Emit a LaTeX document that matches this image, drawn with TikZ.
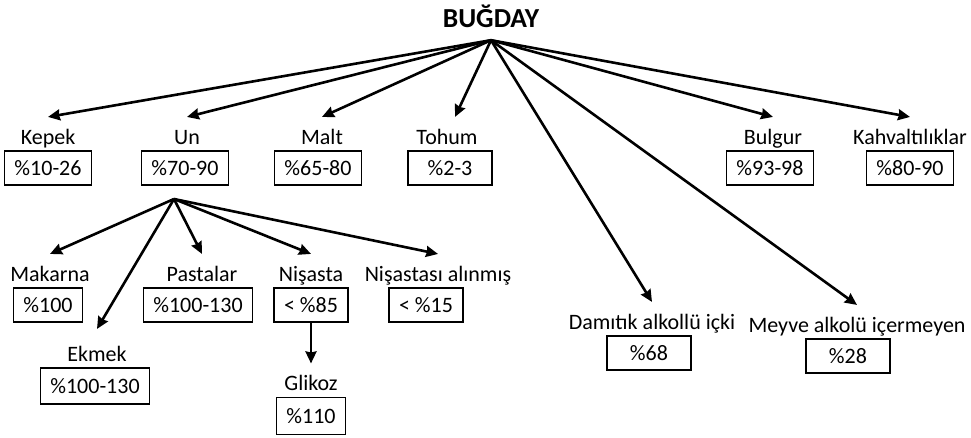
\documentclass[tikz,border=0pt]{standalone}
\usepackage{fontspec}
\setmainfont{Carlito}
\usetikzlibrary{arrows.meta,positioning}
\tikzset{pct/.style={draw, line width=1.3pt, inner xsep=10pt, inner ysep=0pt, minimum width=84pt, minimum height=34pt, font=\fontsize{22}{26}\selectfont}}
\tikzstyle{sub}=[pct, minimum width=0pt]
\tikzstyle{lbl}=[inner xsep=0pt, inner ysep=6pt, text height=21pt, text depth=0pt, font=\fontsize{22}{26}\selectfont]
\tikzstyle{arr}=[->, line width=2.6pt]

\begin{document}
\begin{tikzpicture}[x=1pt, y=-1pt, >={Stealth[length=12pt,width=11pt,inset=1pt]}, node distance=0pt]
\useasboundingbox (0,0) rectangle (971,438);
\node[font=\bfseries\fontsize{27.5}{32}\selectfont, inner xsep=0pt, inner ysep=12pt, text depth=0pt, anchor=base] (bugday) at (491,28) {BUĞDAY};

% first level
\node[pct] (kepekb) at (48,168) {\%10-26};
\node[lbl, above=of kepekb] (kepek) {Kepek};
\node[pct] (unb) at (185,168) {\%70-90};
\node[lbl, above=of unb, xshift=2pt] (un) {Un};
\node[pct] (maltb) at (318,168) {\%65-80};
\node[lbl, above=of maltb, xshift=4pt] (malt) {Malt};
\node[pct] (tohumb) at (450,168) {\%2-3};
\node[lbl, above=of tohumb, xshift=-3pt] (tohum) {Tohum};
\node[pct] (bulgurb) at (770,168) {\%93-98};
\node[lbl, above=of bulgurb, xshift=3pt] (bulgur) {Bulgur};
\node[pct] (kahvb) at (910,168) {\%80-90};
\node[lbl, above=of kahvb] (kahv) {Kahvaltılıklar};
\node[pct] (damitikb) at (649,353) {\%68};
\node[lbl, above=of damitikb, xshift=3pt] (damitik) {Damıtık alkollü içki};
\node[pct] (meyveb) at (848,356) {\%28};
\node[lbl, above=of meyveb, xshift=9pt] (meyve) {Meyve alkolü içermeyen};

\path[arr] (bugday.south) edge (kepek.north)
                          edge (un.north)
                          edge (malt.north)
                          edge ([xshift=8pt]tohum.north)
                          edge (bulgur.north)
                          edge (kahv.north)
                          edge (damitik.north)
                          edge (meyve.north);

% flour products
\coordinate (unfork) at (174,199);
\node[sub] (makarnab) at (48,305) {\%100};
\node[lbl, above=of makarnab, xshift=2pt] (makarna) {Makarna};
\node[sub] (pastab) at (198,305) {\%100-130};
\node[lbl, above=of pastab, xshift=4pt] (pasta) {Pastalar};
\node[sub] (nisastab) at (311,305) {< \%85};
\node[lbl, above=of nisastab] (nisasta) {Nişasta};
\node[sub] (nalinb) at (426,305) {< \%15};
\node[lbl, above=of nalinb, xshift=12pt] (nalin) {Nişastası alınmış};
\node[sub, minimum height=36pt] (ekmekb) at (95,386) {\%100-130};
\node[lbl, above=of ekmekb, xshift=2pt, text height=26pt] (ekmek) {Ekmek};
\node[sub, minimum height=37pt] (glikozb) at (311,416) {\%110};
\node[lbl, above=of glikozb] (glikoz) {Glikoz};

\path[arr] (unfork) edge (makarna.north)
                    edge (ekmek.north)
                    edge (pasta.north)
                    edge (nisasta.north)
                    edge (nalin.north)
           (nisastab) edge (glikoz.north);
\end{tikzpicture}
\end{document}
